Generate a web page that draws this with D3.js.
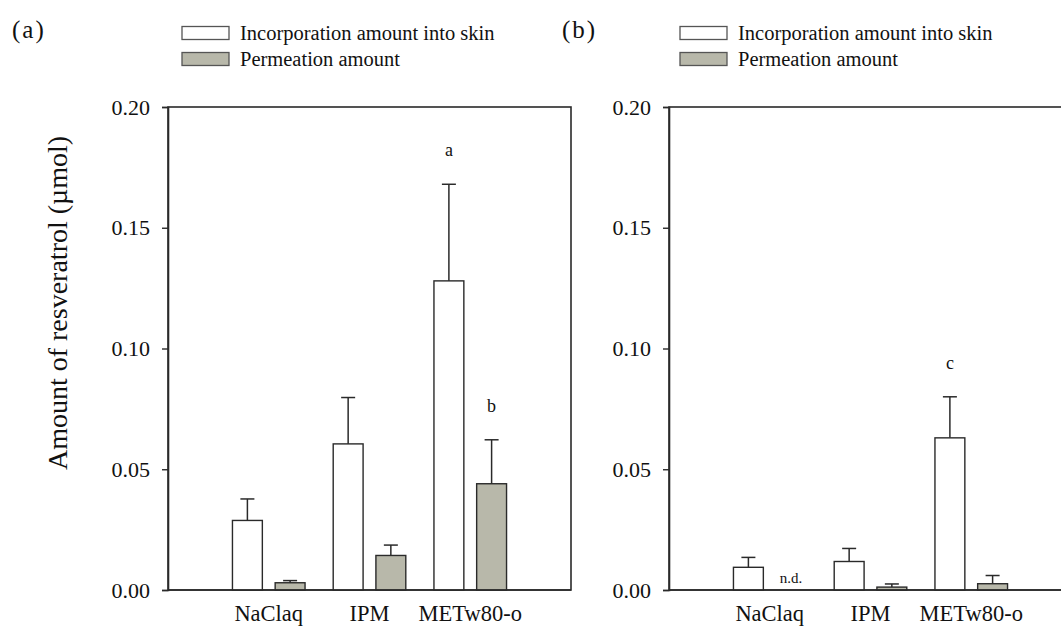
<!DOCTYPE html>
<html>
<head>
<meta charset="utf-8">
<script src="https://cdnjs.cloudflare.com/ajax/libs/d3/7.8.5/d3.min.js"></script>
<style>
  body { margin: 0; background: #fff; }
  svg text { font-family: "Liberation Serif", "Times New Roman", serif; fill: #111; }
</style>
</head>
<body>
<script>
// Chart data
var categories = ["NaClaq", "IPM", "METw80-o"];
var seriesNames = ["Incorporation amount into skin", "Permeation amount"];
var yTicks = [0, 0.05, 0.10, 0.15, 0.20];

// panel (a)
var skinA = [0.0288, 0.0605, 0.128];
var skinErrA = [0.0089, 0.0192, 0.040];
var permA = [0.0030, 0.0143, 0.044];
var permErrA = [0.0009, 0.0043, 0.0182];
var lettersA = [null, null, ["a", "b"]];

// panel (b)  (null = not detected)
var skinB = [0.0094, 0.0118, 0.063];
var skinErrB = [0.0041, 0.0054, 0.017];
var permB = [null, 0.0012, 0.0026];
var permErrB = [null, 0.0013, 0.0034];
var lettersB = [null, null, ["c", null]];

var svgWidth = 1061;
var svgHeight = 627;
var serif = "'Liberation Serif', 'Times New Roman', serif";
var fillColors = ["#ffffff", "#b8b8aa"];
var lineColor = "#2a2a2a";

var svg = d3.select("body")
  .append("svg")
  .attr("width", svgWidth)
  .attr("height", svgHeight)
  .style("display", "block");

// shared y scale
var yScale = d3.scaleLinear()
  .domain([0, 0.2])
  .range([590, 107]);

// y axis title
svg.append("text")
  .attr("transform", "translate(57, 303) rotate(-90)")
  .attr("text-anchor", "middle")
  .attr("dominant-baseline", "central")
  .style("font-family", serif)
  .style("font-size", "28px")
  .text("Amount of resveratrol (\u00b5mol)");

function drawPanel(opts) {
  var left = opts.left;
  var right = left + 403;

  // positions 1..3 on a 0..4 axis
  var xScale = d3.scaleLinear().domain([0, 4]).range([left, right]);
  var subScale = d3.scaleBand()
    .domain(seriesNames)
    .range([-36.3, 36.3])
    .paddingInner(0.3);

  var g = svg.append("g");

  // panel label
  svg.append("text")
    .attr("x", opts.labelX)
    .attr("y", 29)
    .attr("dominant-baseline", "central")
    .style("font-family", serif)
    .style("font-size", "25px")
    .style("letter-spacing", "2px")
    .text(opts.label);

  // legend
  var legend = svg.append("g")
    .attr("transform", `translate(${opts.legendX}, 0)`);
  seriesNames.forEach(function(name, i) {
    var cy = 33 + i * 26;
    legend.append("rect")
      .attr("x", 0)
      .attr("y", cy - 6.5)
      .attr("width", 47)
      .attr("height", 13)
      .attr("fill", fillColors[i])
      .attr("stroke", "#555")
      .attr("stroke-width", 1.3);
    legend.append("text")
      .attr("x", 58)
      .attr("y", cy)
      .attr("dominant-baseline", "central")
      .style("font-family", serif)
      .style("font-size", "20.5px")
      .text(name);
  });

  // frame
  g.append("rect")
    .attr("x", left)
    .attr("y", yScale(0.2))
    .attr("width", right - left)
    .attr("height", yScale(0) - yScale(0.2))
    .attr("fill", "none")
    .attr("stroke", lineColor)
    .attr("stroke-width", 1.6);

  // y axis
  var leftAxis = d3.axisLeft(yScale)
    .tickValues(yTicks)
    .tickSize(6)
    .tickPadding(12)
    .tickFormat(d3.format(".2f"));
  var ya = g.append("g")
    .attr("transform", `translate(${left}, 0)`)
    .call(leftAxis);
  ya.select(".domain").attr("stroke", lineColor).attr("stroke-width", 1.6);
  ya.selectAll(".tick line").attr("stroke", lineColor).attr("stroke-width", 1.4);
  ya.selectAll(".tick text")
    .attr("fill", "#111")
    .style("font-family", serif)
    .style("font-size", "22px");

  // category labels
  g.selectAll(".cat")
    .data(categories)
    .enter()
    .append("text")
    .attr("x", (d, i) => xScale(i + 1))
    .attr("y", 621)
    .attr("text-anchor", "middle")
    .style("font-family", serif)
    .style("font-size", "22.5px")
    .text(d => d);

  // bars
  var rows = [];
  categories.forEach(function(c, i) {
    rows.push({ cat: i, s: 0, v: opts.skin[i], e: opts.skinErr[i] });
    rows.push({ cat: i, s: 1, v: opts.perm[i], e: opts.permErr[i] });
  });

  var cx = d => xScale(d.cat + 1) + subScale(seriesNames[d.s]) + subScale.bandwidth() / 2;
  var present = rows.filter(d => d.v != null);

  // error bars (upper only)
  g.selectAll(".err")
    .data(present)
    .enter()
    .append("line")
    .attr("x1", cx)
    .attr("x2", cx)
    .attr("y1", d => yScale(d.v))
    .attr("y2", d => yScale(d.v + d.e))
    .attr("stroke", lineColor)
    .attr("stroke-width", 1.5);
  g.selectAll(".cap")
    .data(present)
    .enter()
    .append("line")
    .attr("x1", d => cx(d) - 7)
    .attr("x2", d => cx(d) + 7)
    .attr("y1", d => yScale(d.v + d.e))
    .attr("y2", d => yScale(d.v + d.e))
    .attr("stroke", lineColor)
    .attr("stroke-width", 1.5);

  g.selectAll(".bar")
    .data(present)
    .enter()
    .append("rect")
    .attr("x", d => xScale(d.cat + 1) + subScale(seriesNames[d.s]))
    .attr("y", d => yScale(d.v))
    .attr("width", subScale.bandwidth())
    .attr("height", d => yScale(0) - yScale(d.v))
    .attr("fill", d => fillColors[d.s])
    .attr("stroke", lineColor)
    .attr("stroke-width", 1.4);

  // redraw baseline over bars
  g.append("line")
    .attr("x1", left)
    .attr("x2", right)
    .attr("y1", yScale(0))
    .attr("y2", yScale(0))
    .attr("stroke", lineColor)
    .attr("stroke-width", 1.6);

  // n.d. marks
  g.selectAll(".nd")
    .data(rows.filter(d => d.v == null))
    .enter()
    .append("text")
    .attr("x", cx)
    .attr("y", yScale(0) - 12)
    .attr("text-anchor", "middle")
    .attr("dominant-baseline", "central")
    .style("font-family", serif)
    .style("font-size", "15px")
    .text("n.d.");

  // significance letters
  var letterRows = [];
  opts.letters.forEach(function(pair, i) {
    if (!pair) return;
    pair.forEach(function(l, s) {
      if (!l) return;
      var r = rows.find(d => d.cat === i && d.s === s);
      letterRows.push({ row: r, letter: l });
    });
  });
  g.selectAll(".letter")
    .data(letterRows)
    .enter()
    .append("text")
    .attr("x", d => cx(d.row))
    .attr("y", d => yScale(d.row.v + d.row.e) - 34)
    .attr("text-anchor", "middle")
    .attr("dominant-baseline", "central")
    .style("font-family", serif)
    .style("font-size", "18px")
    .text(d => d.letter);
}

drawPanel({ left: 168, label: "(a)", labelX: 12, legendX: 182,
  skin: skinA, skinErr: skinErrA, perm: permA, permErr: permErrA, letters: lettersA });
drawPanel({ left: 669, label: "(b)", labelX: 562, legendX: 680,
  skin: skinB, skinErr: skinErrB, perm: permB, permErr: permErrB, letters: lettersB });
</script>
</body>
</html>
